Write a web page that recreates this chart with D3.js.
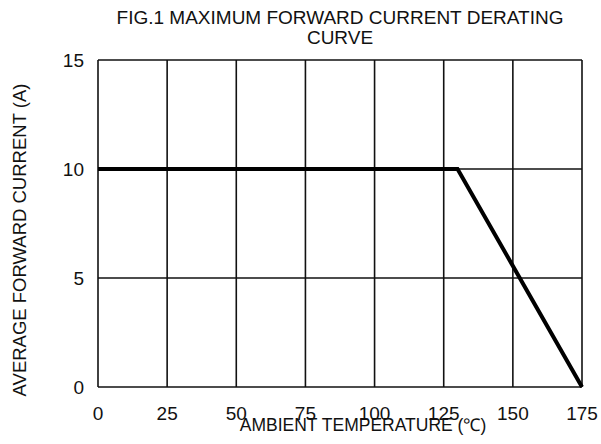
<!DOCTYPE html>
<html>
<head>
<meta charset="utf-8">
<script src="https://cdn.jsdelivr.net/npm/d3@7"></script>
<style>
  body { margin: 0; background: #fff; }
  text { font-family: 'Liberation Sans', Arial, sans-serif; fill: #111; }
</style>
</head>
<body>
<div id="chart"></div>
<script>
var xTicks = [0, 25, 50, 75, 100, 125, 150, 175];
var yTicks = [0, 5, 10, 15];
var temperature = [0, 130, 175];
var current = [10, 10, 0];
var titleLines = ["FIG.1 MAXIMUM FORWARD CURRENT DERATING", "CURVE"];
var xTitle = "AMBIENT TEMPERATURE (\u2103)";
var yTitle = "AVERAGE FORWARD CURRENT (A)";

var w = 601, h = 444;
var margin = {left: 98, right: 19, top: 60, bottom: 57};

var svg = d3.select("#chart").append("svg")
    .attr("width", w)
    .attr("height", h);

var x = d3.scaleLinear().domain([0, 175]).range([margin.left, w - margin.right]);
var y = d3.scaleLinear().domain([0, 15]).range([h - margin.bottom, margin.top]);

// grid
svg.selectAll(".vgrid")
  .data(xTicks)
  .enter()
  .append("line")
  .attr("x1", function(d) { return x(d); })
  .attr("x2", function(d) { return x(d); })
  .attr("y1", y(0))
  .attr("y2", y(15))
  .style("stroke", "#111")
  .style("stroke-width", 1.6);

svg.selectAll(".hgrid")
  .data(yTicks)
  .enter()
  .append("line")
  .attr("x1", x(0))
  .attr("x2", x(175))
  .attr("y1", function(d) { return y(d); })
  .attr("y2", function(d) { return y(d); })
  .style("stroke", "#111")
  .style("stroke-width", 1.6);

// curve
var pts = temperature.map(function(t, i) { return [t, current[i]]; });
svg.append("path")
  .datum(pts)
  .attr("d", d3.line().x(function(d) { return x(d[0]); }).y(function(d) { return y(d[1]); }))
  .style("fill", "none")
  .style("stroke", "#000")
  .style("stroke-width", 4)
  .style("stroke-linejoin", "miter");

// tick labels
svg.selectAll(".xlab")
  .data(xTicks)
  .enter()
  .append("text")
  .text(function(d) { return d; })
  .attr("x", function(d) { return x(d); })
  .attr("y", y(0) + 33)
  .attr("text-anchor", "middle")
  .style("font-size", "19px");

svg.selectAll(".ylab")
  .data(yTicks)
  .enter()
  .append("text")
  .text(function(d) { return d; })
  .attr("x", x(0) - 14)
  .attr("y", function(d) { return y(d) + 7; })
  .attr("text-anchor", "end")
  .style("font-size", "19px");

// titles
svg.selectAll(".title")
  .data(titleLines)
  .enter()
  .append("text")
  .text(function(d) { return d; })
  .attr("x", 340)
  .attr("y", function(d, i) { return 24 + i * 20; })
  .attr("text-anchor", "middle")
  .style("font-size", "19px");

svg.append("text")
  .text(xTitle)
  .attr("x", 363)
  .attr("y", 431)
  .attr("text-anchor", "middle")
  .style("font-size", "17.5px");

svg.append("text")
  .text(yTitle)
  .attr("transform", "translate(26,240) rotate(-90)")
  .attr("text-anchor", "middle")
  .style("font-size", "18.5px");
</script>
</body>
</html>
